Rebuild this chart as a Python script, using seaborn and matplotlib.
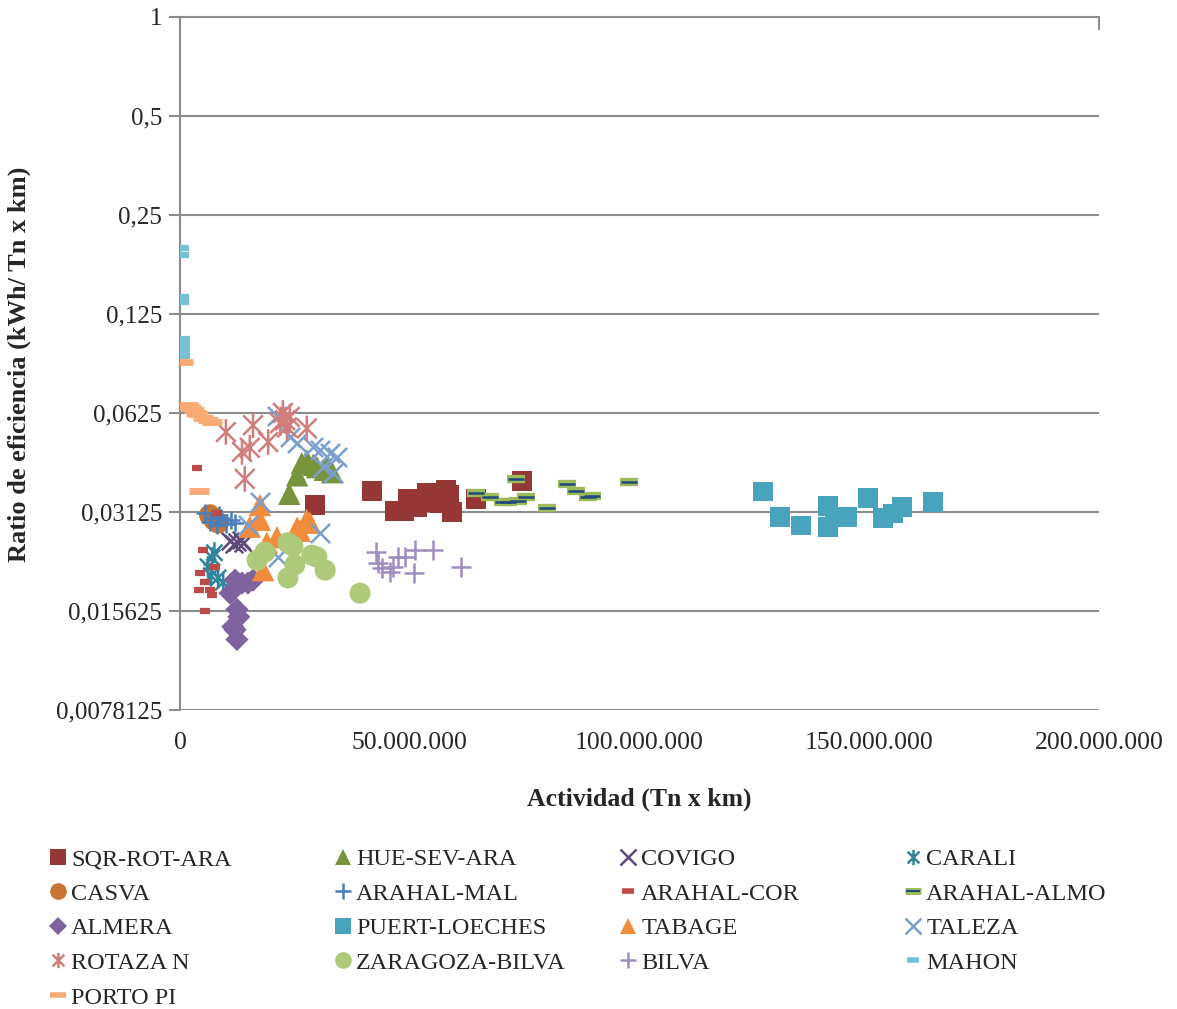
import matplotlib
matplotlib.use('Agg')
import matplotlib.pyplot as plt
import seaborn as sns
from matplotlib.lines import Line2D
from matplotlib.path import Path
from matplotlib.ticker import FixedLocator, FuncFormatter, NullLocator

# Data (x in millions of Tn x km, y in kWh / Tn x km)
sqr_x = [29.4, 41.8, 46.8, 48.7, 49.6, 51.6, 53.8, 56.6, 57.9, 59.2, 64.4, 74.4, 55.0, 58.5]
sqr_y = [0.0328, 0.0362, 0.0315, 0.0315, 0.0342, 0.0323, 0.0357, 0.0333, 0.0364, 0.03125, 0.0342, 0.0388, 0.0335, 0.0352]

hue_x = [23.8, 25.5, 26.5, 27.6, 29.0, 29.8, 31.5, 32.0, 33.1]
hue_y = [0.0355, 0.0404, 0.0440, 0.0449, 0.0435, 0.0428, 0.0420, 0.0428, 0.0413]

covigo_x = [10.9, 11.8, 12.4, 13.2, 13.7]
covigo_y = [0.0255, 0.0250, 0.0253, 0.0256, 0.0251]

carali_x = [6.1, 7.0, 7.5, 8.3, 9.4, 6.8]
carali_y = [0.0213, 0.0227, 0.0235, 0.0197, 0.0191, 0.0200]

casva_x = [6.5, 7.5, 8.3]
casva_y = [0.0306, 0.0295, 0.0290]

mal_x = [5.5, 6.5, 7.0, 8.0, 9.0, 10.0, 11.0, 12.0, 8.5]
mal_y = [0.0310, 0.0292, 0.0300, 0.0285, 0.0300, 0.0288, 0.0296, 0.0290, 0.0305]

cor_x = [3.7, 5.0, 4.4, 5.4, 4.1, 6.5, 7.6, 7.0, 5.4, 8.1]
cor_y = [0.0425, 0.0239, 0.0204, 0.0191, 0.0181, 0.0181, 0.0213, 0.0175, 0.015625, 0.0310]

almo_x = [64.4, 67.5, 70.3, 71.4, 73.1, 73.6, 75.3, 79.9, 84.2, 86.2, 88.8, 89.7, 97.7]
almo_y = [0.0357, 0.0347, 0.0335, 0.0335, 0.0394, 0.0338, 0.0347, 0.0321, 0.0380, 0.0362, 0.0347, 0.0350, 0.0386]

almera_x = [10.9, 12.0, 12.4, 13.5, 14.8, 15.9, 12.0, 12.4, 11.5, 12.8]
almera_y = [0.0177, 0.0194, 0.0158, 0.0190, 0.0190, 0.0194, 0.0137, 0.0128, 0.0140, 0.0150]

puert_x = [126.9, 130.6, 135.1, 141.0, 141.0, 142.5, 145.2, 149.7, 153.0, 155.2, 157.1, 163.9]
puert_y = [0.0361, 0.0302, 0.0284, 0.0326, 0.0282, 0.0302, 0.0302, 0.0344, 0.0300, 0.0309, 0.0324, 0.0335]

tabage_x = [17.4, 17.4, 15.2, 18.9, 21.1, 18.1, 27.6, 26.1, 28.3, 25.5]
tabage_y = [0.0328, 0.0296, 0.0282, 0.0252, 0.0262, 0.0208, 0.0296, 0.0274, 0.0290, 0.0280]

taleza_x = [14.8, 17.4, 21.1, 23.9, 25.5, 28.9, 30.5, 32.6, 34.2, 31.1, 33.3, 30.5, 21.3]
taleza_y = [0.0285, 0.0335, 0.0610, 0.0528, 0.0505, 0.0493, 0.0483, 0.0473, 0.0460, 0.0428, 0.0410, 0.0270, 0.0228]

rotaza_x = [10.0, 15.9, 13.5, 15.2, 19.2, 14.1, 21.8, 22.9, 23.9, 23.3, 27.6, 22.4]
rotaza_y = [0.0547, 0.0574, 0.0476, 0.0490, 0.0510, 0.0394, 0.0582, 0.0594, 0.0608, 0.0565, 0.0561, 0.0625]

zara_x = [16.8, 18.5, 23.5, 24.6, 25.0, 23.5, 28.7, 29.8, 31.6, 39.2]
zara_y = [0.0223, 0.0236, 0.0252, 0.0246, 0.0216, 0.0197, 0.0231, 0.0228, 0.0208, 0.0177]

bilva_x = [42.7, 43.1, 44.0, 45.7, 46.4, 47.4, 49.0, 50.9, 51.1, 55.1, 61.2]
bilva_y = [0.0236, 0.0219, 0.0211, 0.0205, 0.0213, 0.0228, 0.0228, 0.0204, 0.0239, 0.0239, 0.0213]

mahon_x = [0.9, 0.9, 0.9, 0.9, 1.0, 1.0, 1.0, 1.0]
mahon_y = [0.198, 0.189, 0.141, 0.136, 0.105, 0.1006, 0.0965, 0.0932]

porto_x = [0.7, 1.5, 2.0, 2.5, 3.0, 3.5, 4.0, 5.0, 6.0, 7.0, 4.2]
porto_y = [0.0894, 0.0661, 0.0655, 0.0647, 0.064, 0.0625, 0.062, 0.0603, 0.0595, 0.0585, 0.0362]

y_ticks = [2 ** -k for k in range(7, -1, -1)]
y_labels = ['0,0078125', '0,015625', '0,03125', '0,0625', '0,125', '0,25', '0,5', '1']

sns.set_style('white')
plt.rcParams['font.family'] = ['Liberation Serif', 'DejaVu Serif']

# asterisk like the spreadsheet one: an x with a vertical bar
star = Path([(-1, -1), (1, 1), (-1, 1), (1, -1), (0, -1.3), (0, 1.3)],
            [Path.MOVETO, Path.LINETO, Path.MOVETO, Path.LINETO, Path.MOVETO, Path.LINETO])

M = 1e6
# name, x, y, marker, colour, size, linewidth
series = [
    ('SQR-ROT-ARA', sqr_x, sqr_y, 's', '#953735', 200, 0),
    ('HUE-SEV-ARA', hue_x, hue_y, '^', '#77933C', 260, 0),
    ('COVIGO', covigo_x, covigo_y, 'x', '#604A7B', 160, 1.8),
    ('CARALI', carali_x, carali_y, star, '#31859C', 230, 1.8),
    ('CASVA', casva_x, casva_y, 'o', '#C87533', 240, 0),
    ('ARAHAL-MAL', mal_x, mal_y, '+', '#4A7EBB', 150, 1.8),
    ('ARAHAL-COR', cor_x, cor_y, '_', '#BE4B48', 50, 4.5),
    ('ARAHAL-ALMO', almo_x, almo_y, '_', '#9BBB59', 180, 6),
    ('ALMERA', almera_x, almera_y, 'D', '#7F63A1', 140, 0),
    ('PUERT-LOECHES', puert_x, puert_y, 's', '#4AA3BC', 200, 0),
    ('TABAGE', tabage_x, tabage_y, '^', '#F08C3C', 260, 0),
    ('TALEZA', taleza_x, taleza_y, 'x', '#7BA0CD', 190, 1.8),
    ('ROTAZA N', rotaza_x, rotaza_y, star, '#D07E7B', 340, 1.8),
    ('ZARAGOZA-BILVA', zara_x, zara_y, 'o', '#AFC97A', 230, 0),
    ('BILVA', bilva_x, bilva_y, '+', '#A08DC0', 190, 1.8),
    ('MAHON', mahon_x, mahon_y, '_', '#78C0D4', 50, 4.5),
    ('PORTO PI', porto_x, porto_y, '_', '#F9AA75', 190, 5),
]

fig = plt.figure(figsize=(11.77, 10.09), dpi=100)
ax = fig.add_axes([0.1529, 0.2963, 0.7808, 0.6869])

for name, xs, ys, mk, col, s, lw in series:
    xv = [v * M for v in xs]
    if lw == 0:
        sns.scatterplot(x=xv, y=ys, marker=mk, color=col, s=s, linewidth=0,
                        edgecolor='none', ax=ax, legend=False, zorder=3)
    elif isinstance(mk, str):
        sns.scatterplot(x=xv, y=ys, marker=mk, color=col, s=s, linewidth=lw,
                        ax=ax, legend=False, zorder=3)
    else:
        sns.scatterplot(x=xv, y=ys, marker=mk, color=col, s=s, linewidth=lw,
                        edgecolor=col, facecolor='none', ax=ax, legend=False, zorder=3)
    if name == 'ARAHAL-ALMO':
        sns.scatterplot(x=xv, y=ys, marker='_', color='#1F497D', s=120, linewidth=1.8,
                        ax=ax, legend=False, zorder=4)

ax.set_yscale('log', base=2)
ax.set_ylim(2 ** -7, 1)
ax.set_xlim(0, 200 * M)
ax.yaxis.set_major_locator(FixedLocator(y_ticks))
ax.yaxis.set_minor_locator(NullLocator())
ax.set_yticklabels(y_labels)
ax.set_xticks([0, 50 * M, 100 * M, 150 * M, 200 * M])
ax.xaxis.set_major_formatter(FuncFormatter(lambda v, p: f'{int(round(v)):,}'.replace(',', '.')))

grey = '#8c8c8c'
ax.grid(axis='y', color=grey, linewidth=1.5)
ax.grid(axis='x', visible=False)
for side in ['right', 'bottom']:
    ax.spines[side].set_visible(False)
for side in ['left', 'top']:
    ax.spines[side].set_color(grey)
    ax.spines[side].set_linewidth(1.5)
ax.tick_params(axis='y', direction='out', length=8, width=1.5, color=grey,
               labelsize=18, pad=5, left=True)
ax.tick_params(axis='x', bottom=False, top=False, labeltop=False, labelbottom=True,
               labelsize=18.5, pad=12)

# the only tick on the top axis sits at its right end
sec = ax.secondary_xaxis('top')
sec.set_xticks([200 * M])
sec.tick_params(direction='in', length=9, width=1.5, color=grey, labeltop=False)
sec.spines['top'].set_visible(False)

ax.set_xlabel('Actividad (Tn x km)', fontsize=18.5, fontweight='bold')
ax.set_ylabel('Ratio de eficiencia (kWh/ Tn x km)', fontsize=19, fontweight='bold')
ax.xaxis.set_label_coords(0.5, -0.112)
ax.yaxis.set_label_coords(-0.162, 0.499)


def handle(name, mk, col, lw):
    if name == 'ARAHAL-ALMO':
        return (Line2D([], [], ls='none', marker='_', ms=12, mew=5, color=col),
                Line2D([], [], ls='none', marker='_', ms=10, mew=1.5, color='#1F497D'))
    if lw == 0:
        sizes = {'s': 11, '^': 12, 'o': 12, 'D': 9}
        return Line2D([], [], ls='none', marker=mk, ms=sizes[mk], color=col, mew=0)
    ms = 11 if mk != '_' else (12 if name == 'PORTO PI' else 8)
    return Line2D([], [], ls='none', marker=mk, ms=ms, mew=min(lw, 4), color=col,
                  markerfacecolor='none')


col_x = [60, 345, 630, 915]
for c in range(4):
    items = series[c::4]
    hs = [handle(n, mk, col, lw) for n, xs, ys, mk, col, s, lw in items]
    labels = [it[0] for it in items]
    fig.legend(hs, labels, loc='upper left',
               bbox_to_anchor=((col_x[c] - 12) / 1177, 1 - 848 / 1009),
               frameon=False, fontsize=17.5, handlelength=0.8, handletextpad=0.15,
               labelspacing=0.52, borderpad=0, borderaxespad=0)

fig.savefig('out.png', dpi=100)
